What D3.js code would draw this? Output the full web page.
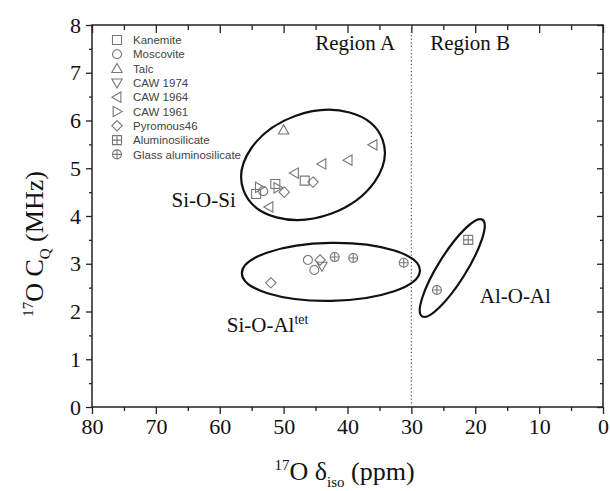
<!DOCTYPE html>
<html>
<head>
<meta charset="utf-8">
<script src="https://cdn.jsdelivr.net/npm/d3@7"></script>
<style>
    body { margin: 0; background: #fff; }
    svg { display: block; }
    .serif { font-family: "Liberation Serif", "Times New Roman", serif; fill: #111; }
    .legend text { font-family: "Liberation Sans", Arial, sans-serif; font-size: 11.5px; fill: #444; }
</style>
</head>
<body>
<div id="graphic"></div>
<script>
// Data: 17O delta_iso (ppm) and CQ (MHz)
var series = ['Kanemite', 'Moscovite', 'Talc', 'CAW 1974', 'CAW 1964', 'CAW 1961', 'Pyromous46', 'Aluminosilicate', 'Glass aluminosilicate'];
var shapes = ['square', 'circle', 'triUp', 'triDown', 'triLeft', 'triRight', 'diamond', 'squarePlus', 'circlePlus'];

var kanemite = [[54.3, 4.46], [51.3, 4.67], [46.7, 4.74]];
var moscovite = [[53.2, 4.52], [46.2, 3.08], [45.2, 2.87]];
var talc = [[50.0, 5.8]];
var caw1974 = [[44.0, 2.95]];
var caw1964 = [[36.0, 5.49], [39.9, 5.17], [44.0, 5.09], [48.3, 4.9], [52.3, 4.19]];
var caw1961 = [[53.8, 4.6], [50.9, 4.59]];
var pyromous46 = [[49.9, 4.5], [45.4, 4.71], [44.3, 3.08], [52.0, 2.6]];
var aluminosilicate = [[21.1, 3.5]];
var glassAluminosilicate = [[42.0, 3.14], [39.1, 3.12], [31.2, 3.02], [26.0, 2.45]];

var seriesValues = [kanemite, moscovite, talc, caw1974, caw1964, caw1961, pyromous46, aluminosilicate, glassAluminosilicate];

var xTicks = [80, 70, 60, 50, 40, 30, 20, 10, 0];
var yTicks = [0, 1, 2, 3, 4, 5, 6, 7, 8];
var regionBoundary = 30;

var render = function() {
    var width = 610, height = 491;
    var margins = { top: 25, right: 7, bottom: 84, left: 92 };
    var chartWidth = width - margins.left - margins.right;
    var chartHeight = height - margins.top - margins.bottom;

    var svg = d3.select('#graphic').append('svg')
        .attr('width', width)
        .attr('height', height);

    var chart = svg.append('g')
        .attr('transform', 'translate(' + margins.left + ',' + margins.top + ')');

    var x = d3.scaleLinear().domain([80, 0]).range([0, chartWidth]);
    var y = d3.scaleLinear().domain([0, 8]).range([chartHeight, 0]);

    var xMinor = d3.range(5, 80, 10);
    var yMinor = d3.range(0.5, 8, 1);

    // axes: outward ticks bottom/left, inward ticks top/right
    var axisStyle = function(g) {
        g.select('.domain').remove();
        g.selectAll('line').attr('stroke', '#222').attr('stroke-width', 1.3);
    };

    chart.append('g')
        .attr('transform', 'translate(0,' + chartHeight + ')')
        .call(d3.axisBottom(x).tickValues(xMinor).tickSize(4).tickFormat(''))
        .call(axisStyle);
    chart.append('g')
        .attr('transform', 'translate(0,' + chartHeight + ')')
        .call(d3.axisBottom(x).tickValues(xTicks).tickSize(7).tickPadding(4))
        .call(axisStyle)
        .selectAll('text')
        .attr('class', 'serif')
        .style('font-size', '22px')
        .attr('fill', '#111');

    chart.append('g')
        .call(d3.axisTop(x).tickValues(xMinor).tickSize(-5).tickFormat(''))
        .call(axisStyle);
    chart.append('g')
        .call(d3.axisTop(x).tickValues(xTicks).tickSize(-8).tickFormat(''))
        .call(axisStyle);

    chart.append('g')
        .call(d3.axisLeft(y).tickValues(yMinor).tickSize(3).tickFormat(''))
        .call(axisStyle);
    chart.append('g')
        .call(d3.axisLeft(y).tickValues(yTicks).tickSize(6).tickPadding(5))
        .call(axisStyle)
        .selectAll('text')
        .attr('class', 'serif')
        .style('font-size', '22px')
        .attr('fill', '#111');

    chart.append('g')
        .attr('transform', 'translate(' + chartWidth + ',0)')
        .call(d3.axisRight(y).tickValues(yMinor).tickSize(-3).tickFormat(''))
        .call(axisStyle);
    chart.append('g')
        .attr('transform', 'translate(' + chartWidth + ',0)')
        .call(d3.axisRight(y).tickValues(yTicks).tickSize(-6).tickFormat(''))
        .call(axisStyle);

    chart.append('rect')
        .attr('width', chartWidth)
        .attr('height', chartHeight)
        .attr('fill', 'none')
        .attr('stroke', '#222')
        .attr('stroke-width', 1.5);

    // region boundary
    chart.append('line')
        .attr('x1', x(regionBoundary)).attr('x2', x(regionBoundary))
        .attr('y1', y(0)).attr('y2', y(8))
        .attr('stroke', '#555')
        .attr('stroke-width', 1.2)
        .attr('stroke-dasharray', '1.2,2.4');

    // group ellipses (center in data units, semi-axes in px, tilt in degrees)
    var ellipses = [
        { cx: 45.4, cy: 5.07, rx: 74, ry: 52, tilt: -20 },
        { cx: 42.6, cy: 2.83, rx: 89, ry: 29, tilt: -1 },
        { cx: 23.6, cy: 2.91, rx: 57, ry: 14, tilt: -58 }
    ];
    chart.selectAll('.group')
        .data(ellipses)
        .enter().append('ellipse')
        .attr('class', 'group')
        .attr('transform', function(d) {
            return 'translate(' + x(d.cx) + ',' + y(d.cy) + ') rotate(' + d.tilt + ')';
        })
        .attr('rx', function(d) { return d.rx; })
        .attr('ry', function(d) { return d.ry; })
        .attr('fill', 'none')
        .attr('stroke', '#111')
        .attr('stroke-width', 2.2);

    // symbol drawing
    var symbol = function(sel, shape) {
        var s = 4.5;
        var c = s * 1.15;
        var stroke = '#777';
        var p = function(d) {
            return sel.append('path').attr('d', d)
                .attr('fill', 'none').attr('stroke', stroke).attr('stroke-width', 1.1);
        };
        if (shape == 'square') {
            p('M' + -s + ',' + -s + 'h' + 2 * s + 'v' + 2 * s + 'h' + -2 * s + 'Z');
        } else if (shape == 'circle') {
            sel.append('circle').attr('r', s)
                .attr('fill', 'none').attr('stroke', stroke).attr('stroke-width', 1.1);
        } else if (shape == 'triUp') {
            p('M0,' + -c + 'L' + c + ',' + c * 0.75 + 'L' + -c + ',' + c * 0.75 + 'Z');
        } else if (shape == 'triDown') {
            p('M0,' + c + 'L' + c + ',' + -c * 0.75 + 'L' + -c + ',' + -c * 0.75 + 'Z');
        } else if (shape == 'triLeft') {
            p('M' + -c + ',0L' + c * 0.75 + ',' + -c + 'L' + c * 0.75 + ',' + c + 'Z');
        } else if (shape == 'triRight') {
            p('M' + c + ',0L' + -c * 0.75 + ',' + -c + 'L' + -c * 0.75 + ',' + c + 'Z');
        } else if (shape == 'diamond') {
            p('M0,' + -c + 'L' + c + ',0L0,' + c + 'L' + -c + ',0Z');
        } else if (shape == 'squarePlus') {
            p('M' + -s + ',' + -s + 'h' + 2 * s + 'v' + 2 * s + 'h' + -2 * s + 'Z' +
              'M' + -s + ',0h' + 2 * s + 'M0,' + -s + 'v' + 2 * s);
        } else if (shape == 'circlePlus') {
            sel.append('circle').attr('r', s)
                .attr('fill', 'none').attr('stroke', stroke).attr('stroke-width', 1.1);
            p('M' + -s + ',0h' + 2 * s + 'M0,' + -s + 'v' + 2 * s);
        }
    };

    // points
    seriesValues.forEach(function(values, i) {
        chart.append('g')
            .attr('class', 'series-' + i)
            .selectAll('g')
            .data(values)
            .enter().append('g')
            .attr('transform', function(d) { return 'translate(' + x(d[0]) + ',' + y(d[1]) + ')'; })
            .each(function() { symbol(d3.select(this), shapes[i]); });
    });

    // legend
    var legend = chart.append('g')
        .attr('class', 'legend')
        .attr('transform', 'translate(25,15)');
    series.forEach(function(name, i) {
        var row = legend.append('g')
            .attr('transform', 'translate(0,' + (i * 14.3) + ')');
        symbol(row, shapes[i]);
        row.append('text')
            .attr('x', 16)
            .attr('dy', '0.36em')
            .text(name);
    });

    // annotations
    var labels = [
        { text: 'Region A', x: 38.8, y: 7.48, anchor: 'middle' },
        { text: 'Region B', x: 20.8, y: 7.48, anchor: 'middle' },
        { text: 'Si-O-Si', x: 57.5, y: 4.19, anchor: 'end' },
        { text: 'Al-O-Al', x: 19.3, y: 2.18, anchor: 'start' }
    ];
    labels.forEach(function(l) {
        chart.append('text')
            .attr('class', 'serif')
            .attr('x', x(l.x))
            .attr('y', y(l.y))
            .attr('text-anchor', l.anchor)
            .style('font-size', '21px')
            .text(l.text);
    });

    var siAl = chart.append('text')
        .attr('class', 'serif')
        .attr('x', x(58.9))
        .attr('y', y(1.57))
        .style('font-size', '21px');
    siAl.append('tspan').text('Si-O-Al');
    siAl.append('tspan').attr('dy', -8).style('font-size', '14px').text('tet');

    // axis titles
    var xTitle = svg.append('text')
        .attr('class', 'serif')
        .attr('x', margins.left + chartWidth / 2 - 3)
        .attr('y', 480)
        .attr('text-anchor', 'middle')
        .style('font-size', '26px');
    xTitle.append('tspan').attr('dy', -10).style('font-size', '15px').text('17');
    xTitle.append('tspan').attr('dy', 10).text('O δ');
    xTitle.append('tspan').attr('dy', 7).style('font-size', '15px').text('iso');
    xTitle.append('tspan').attr('dy', -7).text(' (ppm)');

    var yTitle = svg.append('text')
        .attr('class', 'serif')
        .attr('transform', 'translate(43,' + (margins.top + chartHeight / 2 + 28) + ') rotate(-90)')
        .attr('text-anchor', 'middle')
        .style('font-size', '26px');
    yTitle.append('tspan').attr('dy', -10).style('font-size', '15px').text('17');
    yTitle.append('tspan').attr('dy', 10).text('O C');
    yTitle.append('tspan').attr('dy', 7).style('font-size', '15px').text('Q');
    yTitle.append('tspan').attr('dy', -7).text(' (MHz)');
};

render();
</script>
</body>
</html>
